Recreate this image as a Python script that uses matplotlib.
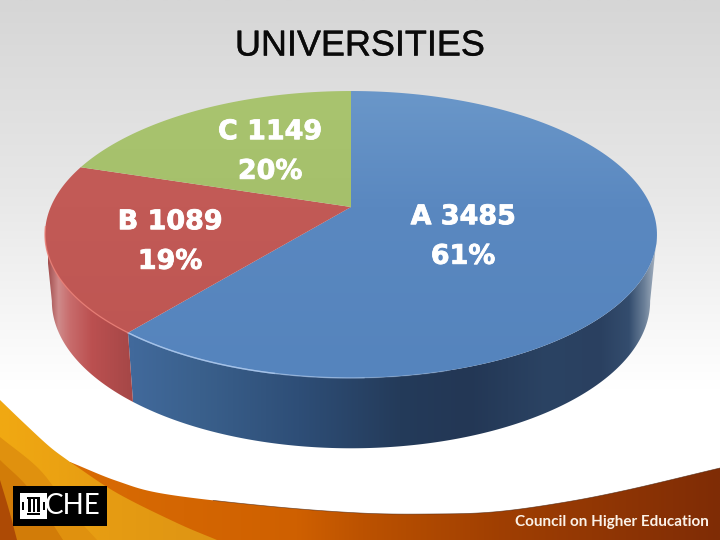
import numpy as np
import matplotlib
matplotlib.use("Agg")
import matplotlib.pyplot as plt
import matplotlib.patheffects as pe
from matplotlib.patches import Polygon, Rectangle
from matplotlib.colors import LinearSegmentedColormap as LSC

categories = ["A", "B", "C"]
values = [3485, 1089, 1149]
top_colors = [("#6a97c9", "#5a88c0", "#5584bd"), ("#c55c58", "#c25a56", "#bd5552"), ("#a9c46f", "#a5c06b", "#a0bb66")]
label_pos = [(463, 237), (170, 242), (270, 152)]
title = "UNIVERSITIES"
footer = "Council on Higher Education"
logo_text = "CHE"

W, H = 720, 540
fig = plt.figure(figsize=(W / 100, H / 100), dpi=100)
ax = fig.add_axes([0, 0, 1, 1])
ax.set_xlim(0, W); ax.set_ylim(H, 0); ax.axis("off")


def grad(poly, stops, extent, horizontal=True, z=1):
    cm = LSC.from_list("g", stops, N=512)
    x0, x1, y0, y1 = extent
    g = np.linspace(0, 1, 512)
    arr = g[None, :] if horizontal else g[:, None]
    im = ax.imshow(arr, cmap=cm, vmin=0, vmax=1, extent=[x0, x1, y1, y0],
                   aspect="auto", interpolation="bilinear", zorder=z)
    if poly is not None:
        p = Polygon(poly, closed=True, transform=ax.transData, fc="none", ec="none")
        ax.add_patch(p)
        im.set_clip_path(p)
    ax.set_xlim(0, W); ax.set_ylim(H, 0)
    return im


def smooth(pts, n=16):
    """Catmull-Rom curve through decorative outline points."""
    p = np.array(pts, float)
    p = np.vstack([2 * p[0] - p[1], p, 2 * p[-1] - p[-2]])
    out = []
    for i in range(1, len(p) - 2):
        t = np.linspace(0, 1, n, endpoint=False)[:, None]
        out.append(0.5 * (2 * p[i] + (p[i + 1] - p[i - 1]) * t
                          + (2 * p[i - 1] - 5 * p[i] + 4 * p[i + 1] - p[i + 2]) * t ** 2
                          + (3 * p[i] - p[i - 1] - 3 * p[i + 1] + p[i + 2]) * t ** 3))
    out.append(p[-2][None, :])
    return np.vstack(out)


# background
grad(None, [(0, "#d6d6d6"), (0.35, "#e7e7e7"), (0.72, "#ffffff"), (1, "#ffffff")], (0, W, 0, 540), False, 0)

# footer swooshes
edge = smooth([(70, 462), (117, 481), (165, 494), (267, 506), (360, 513), (430, 514), (493, 512), (560, 503), (627, 490), (720, 468)])
grad(np.vstack([edge, [(720, 540), (70, 540)]]),
     [(0, "#d96c04"), (0.35, "#cf6000"), (0.45, "#bc5200"), (0.66, "#a03f02"), (1, "#7f2c06")],
     (70, 720, 440, 540), True, 2)
ax.plot(edge[40:, 0], edge[40:, 1], color="#4a2410", lw=0.5, alpha=0.7, zorder=3)
amber = np.vstack([smooth([(0, 400), (25, 424), (50, 447), (70, 462)]),
                   smooth([(70, 462), (117, 493), (177, 523), (217, 540)]), [(0, 540)]])
grad(amber, [(0, "#f1a912"), (0.5, "#e69c12"), (1, "#de9414")], (0, 217, 400, 540), True, 3)
ax.add_patch(Polygon(smooth([(0, 437), (40, 470), (70, 510), (97, 540)]).tolist() + [(0, 540)], fc="#e0910e", ec="none", zorder=3))
ax.add_patch(Polygon(smooth([(0, 460), (30, 490), (63, 540)]).tolist() + [(0, 540)], fc="#d27c08", ec="none", zorder=3))
ax.add_patch(Polygon(smooth([(0, 480), (9, 510), (17, 540)]).tolist() + [(0, 540)], fc="#ad4a05", ec="none", zorder=3))

# logo
ax.add_patch(Rectangle((13, 486), 94, 40, fc="black", ec="none", zorder=4))
ax.add_patch(Rectangle((20, 493), 27, 25.5, fc="white", ec="none", zorder=5))
for r in [(28, 499, 2.5, 13), (32.5, 499, 2.5, 13), (37, 499, 2.5, 13), (27, 497, 13, 1.5), (27, 513, 13, 1.5),
          (22, 502, 2, 8), (43, 502, 2, 8)]:
    ax.add_patch(Rectangle(r[:2], r[2], r[3], fc="black", ec="none", zorder=6))
ax.text(72.5, 506.5, logo_text, color="white", fontsize=20, family="Lato", ha="center", va="center", zorder=6)
ax.text(612, 522, footer, color="#fbf2e8", fontsize=11, family="Lato",
        weight="bold", ha="center", va="center", zorder=6)

# perspective-projected pie
CX, CY, K = 351, 207, -0.1916
A_T, B_T = 138.2, 300.3
CY2, A_B, B_B = 273, 141.7, 293.6


def rim(deg, a, b, cy):
    t = np.radians(deg)
    u, v = np.sin(t), -np.cos(t)
    d = 1 + K * v
    return np.column_stack([CX + b * u / d, cy + a * v / d])


total = sum(values)
ends = np.cumsum(values) / total * 360
starts = np.r_[0, ends[:-1]]

side_stops = {
    0: ((50, 657), [(0, "#41699b"), (0.138, "#41699b"), (0.247, "#3a608c"), (0.41, "#2e4e77"), (0.577, "#243b5a"),
                    (0.69, "#233755"), (0.82, "#2b4363"), (0.906, "#2a4060"), (0.955, "#344d6e"), (0.98, "#6a7f98"), (1, "#a8b4c2")]),
    1: ((48, 136), [(0, "#a04c4c"), (0.12, "#cf8a8a"), (0.25, "#c86c6c"), (0.5, "#bb5050"), (1, "#a34646")]),
}
for i, (s, e) in enumerate(zip(starts, ends)):
    if i in side_stops:
        deg = np.linspace(max(s, 101), min(e, 259), 200)
        poly = np.vstack([rim(deg, A_T, B_T, CY), rim(deg[::-1], A_B, B_B, CY2)])
        (xa, xb), stops = side_stops[i]
        grad(poly, stops, (xa, xb, 80, 460), True, 7)

for i, (s, e) in enumerate(zip(starts, ends)):
    deg = np.linspace(s, e, 200)
    poly = np.vstack([[[CX, CY]], rim(deg, A_T, B_T, CY)])
    grad(poly, list(zip([0, 0.4, 1], top_colors[i])), (40, 660, 91, 380), False, 8)

# rim highlight, fading towards the right
for a0, alpha in [(165, 0.25), (178, 0.45), (192, 0.8)]:
    h = rim(np.linspace(a0, ends[0], 80), A_T, B_T, CY)
    ax.plot(h[:, 0], h[:, 1], color="#a9c6ec", lw=1.0, alpha=alpha, zorder=9)
h = rim(np.linspace(ends[0], 262, 60), A_T, B_T, CY)
ax.plot(h[:, 0], h[:, 1], color="#ea7d74", lw=1.0, alpha=0.8, zorder=9)

for c, v, (x, y) in zip(categories, values, label_pos):
    t = ax.text(x, y, f"{c} {v}\n{round(100 * v / total)}%", color="white", fontsize=19.4, family="DejaVu Sans",
                weight="bold", ha="center", va="center", linespacing=1.68, zorder=10)
    t.set_path_effects([pe.withStroke(linewidth=0.6, foreground="white")])

t = ax.text(360, 46, title, color="#0a0a0a", fontsize=25.9, family="Liberation Sans", ha="center", va="center", zorder=10)
t.set_path_effects([pe.withStroke(linewidth=0.3, foreground="#0a0a0a")])

fig.savefig("out.png", dpi=100)
